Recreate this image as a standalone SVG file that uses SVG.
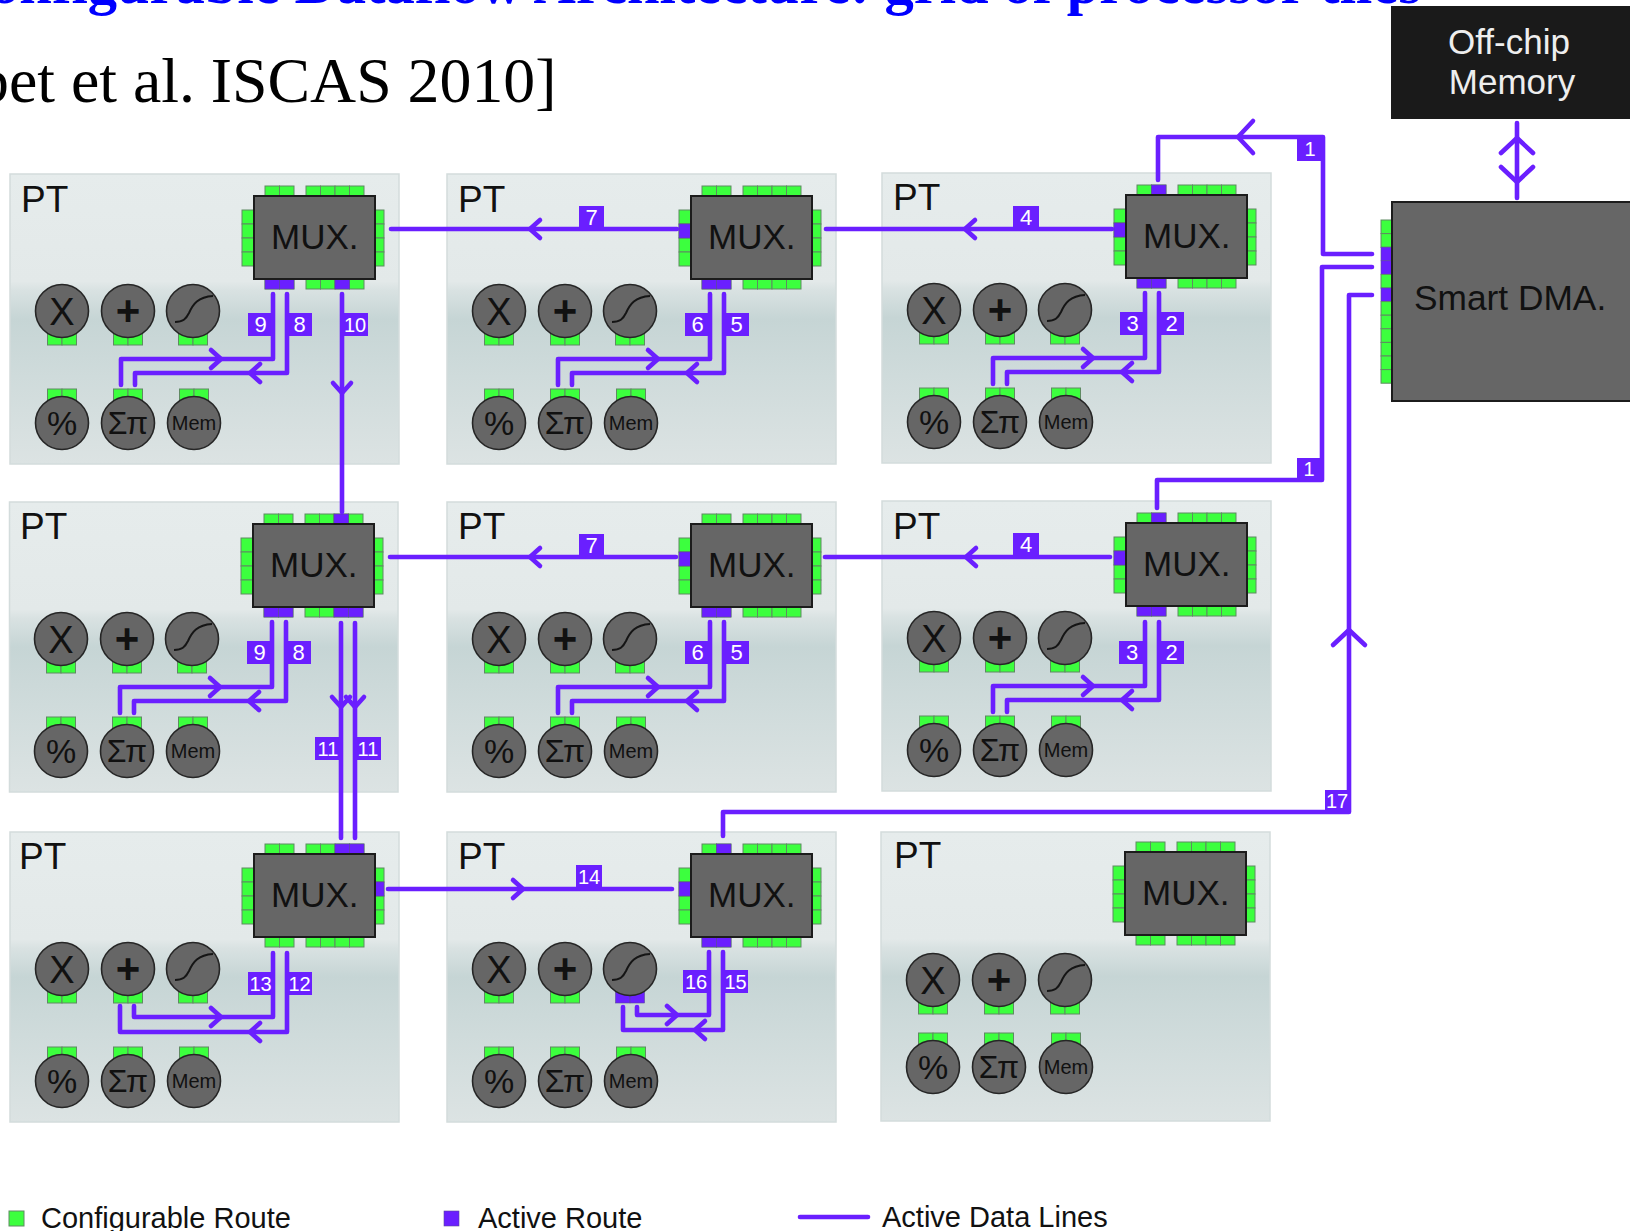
<svg xmlns="http://www.w3.org/2000/svg" xmlns:xlink="http://www.w3.org/1999/xlink" width="1630" height="1231" viewBox="0 0 1630 1231">
<style>
text{font-family:"Liberation Sans",Arial,sans-serif;fill:#111}
.serif{font-family:"Liberation Serif","Times New Roman",serif}
.pt{font-size:37px}
.mx{font-size:35px}
.bg{fill:url(#tile);stroke:#d3dcdc;stroke-width:1.5}
.box{fill:#666;stroke:#1c1c1c;stroke-width:2}
.fu{fill:#666;stroke:#262626;stroke-width:1.6}
.curve{fill:none;stroke:#151515;stroke-width:2}
.g{fill:#3cff3e;stroke:#5f8a62;stroke-width:1}
.a{fill:#6a1fff;stroke:#5a4a9a;stroke-width:.6}
.wire{fill:none;stroke:#6a1fff;stroke-width:4.6;stroke-linecap:round;stroke-linejoin:round}
.lb{fill:#6a1fff}
.n{fill:#fff;font-size:22px;text-anchor:middle}
.nn{font-size:20px}
.m{text-anchor:middle}
.f{font-size:38px;text-anchor:middle}
.plus{font-size:42px;text-anchor:middle;font-weight:bold}
.pc{font-size:34px;text-anchor:middle}
.sp{font-size:32px;text-anchor:middle}
.mem{font-size:20px;text-anchor:middle}
.leg{font-size:29px}
</style>
<defs>
<linearGradient id="tile" x1="0" y1="0" x2="0" y2="1">
<stop offset="0" stop-color="#e6ecec"/><stop offset=".37" stop-color="#e3e9e9"/><stop offset=".4" stop-color="#d9e2e2"/><stop offset=".5" stop-color="#c6d5d5"/><stop offset=".7" stop-color="#cfdbdb"/><stop offset="1" stop-color="#dce3e3"/>
</linearGradient>
<g id="mux-ports">
<rect class="g" x="265" y="186" width="14.5" height="12"/><rect class="g" x="279.5" y="186" width="14.5" height="12"/>
<rect class="g" x="306" y="186" width="14.5" height="12"/><rect class="g" x="320.5" y="186" width="14.5" height="12"/><rect class="g" x="335" y="186" width="14.5" height="12"/><rect class="g" x="349.5" y="186" width="14.5" height="12"/>
<rect class="g" x="265" y="277" width="14.5" height="12"/><rect class="g" x="279.5" y="277" width="14.5" height="12"/>
<rect class="g" x="306" y="277" width="14.5" height="12"/><rect class="g" x="320.5" y="277" width="14.5" height="12"/><rect class="g" x="335" y="277" width="14.5" height="12"/><rect class="g" x="349.5" y="277" width="14.5" height="12"/>
<rect class="g" x="242" y="210" width="14" height="14"/><rect class="g" x="242" y="224" width="14" height="14"/><rect class="g" x="242" y="238" width="14" height="14"/><rect class="g" x="242" y="252" width="14" height="14"/>
<rect class="g" x="373" y="210" width="11" height="14"/><rect class="g" x="373" y="224" width="11" height="14"/><rect class="g" x="373" y="238" width="11" height="14"/><rect class="g" x="373" y="252" width="11" height="14"/>
</g>
<g id="fp-d"><rect class="g" x="-14.5" y="20" width="14.5" height="14"/><rect class="g" x="0" y="20" width="14.5" height="14"/></g>
<g id="fp-u"><rect class="g" x="-14.5" y="-34" width="14.5" height="14"/><rect class="g" x="0" y="-34" width="14.5" height="14"/></g>
<path id="s-curve" class="curve" d="M-18,11 C-10,11 -7,8 -4,2 C0,-7 5,-14 20,-15"/>
<path id="chev" d="M-10,-9 L0,0 L-10,9" class="wire"/>
<path id="chev-big" d="M-15,-16 L0,0 L-15,16" class="wire"/>
</defs>
<rect width="1630" height="1231" fill="#fff"/>
<text class="serif" x="1421" y="2.5" text-anchor="end" font-size="58.6" font-weight="bold" style="fill:#0000ff">Configurable Dataflow Architecture: grid of processor tiles</text>
<text class="serif" x="-23" y="102" font-size="63.8" style="fill:#000">bet et al. ISCAS 2010]</text>

<g id="pt-1-1" transform="translate(0,0)">
<rect class="bg" x="10" y="174" width="389" height="290"/><text class="pt" x="21" y="212">PT</text>
<use href="#mux-ports"/><rect class="a" x="265" y="277" width="14.5" height="12"/><rect class="a" x="279.5" y="277" width="14.5" height="12"/><rect class="a" x="335" y="277" width="14.5" height="12"/>
<rect class="box" x="254" y="196" width="121" height="83"/><text class="mx" x="271" y="249">MUX.</text>
<g transform="translate(62,311)"><use href="#fp-d"/><circle class="fu" r="26.5"/><text class="f" y="13.5">X</text></g>
<g transform="translate(128,311)"><use href="#fp-d"/><circle class="fu" r="26.5"/><text class="plus" y="14">+</text></g>
<g transform="translate(193,311)"><use href="#fp-d"/><circle class="fu" r="26.5"/><use href="#s-curve"/></g>
<g transform="translate(62,423)"><use href="#fp-u"/><circle class="fu" r="26.5"/><text class="pc" y="12">%</text></g>
<g transform="translate(128,423)"><use href="#fp-u"/><circle class="fu" r="26.5"/><text class="sp" y="11">Σπ</text></g>
<g transform="translate(194,423)"><use href="#fp-u"/><circle class="fu" r="26.5"/><text class="mem" y="6.5">Mem</text></g>
</g>

<g id="pt-1-2" transform="translate(437,0)">
<rect class="bg" x="10" y="174" width="389" height="290"/><text class="pt" x="21" y="212">PT</text>
<use href="#mux-ports"/><rect class="a" x="242" y="224" width="14" height="14"/><rect class="a" x="265" y="277" width="14.5" height="12"/><rect class="a" x="279.5" y="277" width="14.5" height="12"/>
<rect class="box" x="254" y="196" width="121" height="83"/><text class="mx" x="271" y="249">MUX.</text>
<g transform="translate(62,311)"><use href="#fp-d"/><circle class="fu" r="26.5"/><text class="f" y="13.5">X</text></g>
<g transform="translate(128,311)"><use href="#fp-d"/><circle class="fu" r="26.5"/><text class="plus" y="14">+</text></g>
<g transform="translate(193,311)"><use href="#fp-d"/><circle class="fu" r="26.5"/><use href="#s-curve"/></g>
<g transform="translate(62,423)"><use href="#fp-u"/><circle class="fu" r="26.5"/><text class="pc" y="12">%</text></g>
<g transform="translate(128,423)"><use href="#fp-u"/><circle class="fu" r="26.5"/><text class="sp" y="11">Σπ</text></g>
<g transform="translate(194,423)"><use href="#fp-u"/><circle class="fu" r="26.5"/><text class="mem" y="6.5">Mem</text></g>
</g>

<g id="pt-1-3" transform="translate(872,-1)">
<rect class="bg" x="10" y="174" width="389" height="290"/><text class="pt" x="21" y="211">PT</text>
<use href="#mux-ports"/><rect class="a" x="279.5" y="186" width="14.5" height="12"/><rect class="a" x="242" y="224" width="14" height="14"/><rect class="a" x="265" y="277" width="14.5" height="12"/><rect class="a" x="279.5" y="277" width="14.5" height="12"/>
<rect class="box" x="254" y="196" width="121" height="83"/><text class="mx" x="271" y="249">MUX.</text>
<g transform="translate(62,311)"><use href="#fp-d"/><circle class="fu" r="26.5"/><text class="f" y="13.5">X</text></g>
<g transform="translate(128,311)"><use href="#fp-d"/><circle class="fu" r="26.5"/><text class="plus" y="14">+</text></g>
<g transform="translate(193,311)"><use href="#fp-d"/><circle class="fu" r="26.5"/><use href="#s-curve"/></g>
<g transform="translate(62,423)"><use href="#fp-u"/><circle class="fu" r="26.5"/><text class="pc" y="12">%</text></g>
<g transform="translate(128,423)"><use href="#fp-u"/><circle class="fu" r="26.5"/><text class="sp" y="11">Σπ</text></g>
<g transform="translate(194,423)"><use href="#fp-u"/><circle class="fu" r="26.5"/><text class="mem" y="6.5">Mem</text></g>
</g>

<g id="pt-2-1" transform="translate(-1,328)">
<rect class="bg" x="10.5" y="174" width="388.5" height="290"/><text class="pt" x="21" y="211">PT</text>
<use href="#mux-ports"/><rect class="a" x="335" y="186" width="14.5" height="12"/><rect class="a" x="265" y="277" width="14.5" height="12"/><rect class="a" x="279.5" y="277" width="14.5" height="12"/><rect class="a" x="335" y="277" width="14.5" height="12"/><rect class="a" x="349.5" y="277" width="14.5" height="12"/>
<rect class="box" x="254" y="196" width="121" height="83"/><text class="mx" x="271" y="249">MUX.</text>
<g transform="translate(62,311)"><use href="#fp-d"/><circle class="fu" r="26.5"/><text class="f" y="13.5">X</text></g>
<g transform="translate(128,311)"><use href="#fp-d"/><circle class="fu" r="26.5"/><text class="plus" y="14">+</text></g>
<g transform="translate(193,311)"><use href="#fp-d"/><circle class="fu" r="26.5"/><use href="#s-curve"/></g>
<g transform="translate(62,423)"><use href="#fp-u"/><circle class="fu" r="26.5"/><text class="pc" y="12">%</text></g>
<g transform="translate(128,423)"><use href="#fp-u"/><circle class="fu" r="26.5"/><text class="sp" y="11">Σπ</text></g>
<g transform="translate(194,423)"><use href="#fp-u"/><circle class="fu" r="26.5"/><text class="mem" y="6.5">Mem</text></g>
</g>

<g id="pt-2-2" transform="translate(437,328)">
<rect class="bg" x="10" y="174" width="389" height="290"/><text class="pt" x="21" y="211">PT</text>
<use href="#mux-ports"/><rect class="a" x="242" y="224" width="14" height="14"/><rect class="a" x="265" y="277" width="14.5" height="12"/><rect class="a" x="279.5" y="277" width="14.5" height="12"/>
<rect class="box" x="254" y="196" width="121" height="83"/><text class="mx" x="271" y="249">MUX.</text>
<g transform="translate(62,311)"><use href="#fp-d"/><circle class="fu" r="26.5"/><text class="f" y="13.5">X</text></g>
<g transform="translate(128,311)"><use href="#fp-d"/><circle class="fu" r="26.5"/><text class="plus" y="14">+</text></g>
<g transform="translate(193,311)"><use href="#fp-d"/><circle class="fu" r="26.5"/><use href="#s-curve"/></g>
<g transform="translate(62,423)"><use href="#fp-u"/><circle class="fu" r="26.5"/><text class="pc" y="12">%</text></g>
<g transform="translate(128,423)"><use href="#fp-u"/><circle class="fu" r="26.5"/><text class="sp" y="11">Σπ</text></g>
<g transform="translate(194,423)"><use href="#fp-u"/><circle class="fu" r="26.5"/><text class="mem" y="6.5">Mem</text></g>
</g>

<g id="pt-2-3" transform="translate(872,327)">
<rect class="bg" x="10" y="174" width="389" height="290"/><text class="pt" x="21" y="212">PT</text>
<use href="#mux-ports"/><rect class="a" x="279.5" y="186" width="14.5" height="12"/><rect class="a" x="242" y="224" width="14" height="14"/><rect class="a" x="265" y="277" width="14.5" height="12"/><rect class="a" x="279.5" y="277" width="14.5" height="12"/>
<rect class="box" x="254" y="196" width="121" height="83"/><text class="mx" x="271" y="249">MUX.</text>
<g transform="translate(62,311)"><use href="#fp-d"/><circle class="fu" r="26.5"/><text class="f" y="13.5">X</text></g>
<g transform="translate(128,311)"><use href="#fp-d"/><circle class="fu" r="26.5"/><text class="plus" y="14">+</text></g>
<g transform="translate(193,311)"><use href="#fp-d"/><circle class="fu" r="26.5"/><use href="#s-curve"/></g>
<g transform="translate(62,423)"><use href="#fp-u"/><circle class="fu" r="26.5"/><text class="pc" y="12">%</text></g>
<g transform="translate(128,423)"><use href="#fp-u"/><circle class="fu" r="26.5"/><text class="sp" y="11">Σπ</text></g>
<g transform="translate(194,423)"><use href="#fp-u"/><circle class="fu" r="26.5"/><text class="mem" y="6.5">Mem</text></g>
</g>

<g id="pt-3-1" transform="translate(0,658)">
<rect class="bg" x="10" y="174" width="389" height="290"/><text class="pt" x="19" y="211">PT</text>
<use href="#mux-ports"/><rect class="a" x="335" y="186" width="14.5" height="12"/><rect class="a" x="349.5" y="186" width="14.5" height="12"/><rect class="a" x="373" y="224" width="11" height="14"/>
<rect class="box" x="254" y="196" width="121" height="83"/><text class="mx" x="271" y="249">MUX.</text>
<g transform="translate(62,311)"><use href="#fp-d"/><circle class="fu" r="26.5"/><text class="f" y="13.5">X</text></g>
<g transform="translate(128,311)"><use href="#fp-d"/><circle class="fu" r="26.5"/><text class="plus" y="14">+</text></g>
<g transform="translate(193,311)"><use href="#fp-d"/><circle class="fu" r="26.5"/><use href="#s-curve"/></g>
<g transform="translate(62,423)"><use href="#fp-u"/><circle class="fu" r="26.5"/><text class="pc" y="12">%</text></g>
<g transform="translate(128,423)"><use href="#fp-u"/><circle class="fu" r="26.5"/><text class="sp" y="11">Σπ</text></g>
<g transform="translate(194,423)"><use href="#fp-u"/><circle class="fu" r="26.5"/><text class="mem" y="6.5">Mem</text></g>
</g>

<g id="pt-3-2" transform="translate(437,658)">
<rect class="bg" x="10" y="174" width="389" height="290"/><text class="pt" x="21" y="211">PT</text>
<use href="#mux-ports"/><rect class="a" x="279.5" y="186" width="14.5" height="12"/><rect class="a" x="242" y="224" width="14" height="14"/><rect class="a" x="265" y="277" width="14.5" height="12"/><rect class="a" x="279.5" y="277" width="14.5" height="12"/>
<rect class="box" x="254" y="196" width="121" height="83"/><text class="mx" x="271" y="249">MUX.</text>
<g transform="translate(62,311)"><use href="#fp-d"/><circle class="fu" r="26.5"/><text class="f" y="13.5">X</text></g>
<g transform="translate(128,311)"><use href="#fp-d"/><circle class="fu" r="26.5"/><text class="plus" y="14">+</text></g>
<g transform="translate(193,311)"><rect class="a" x="-14.5" y="20" width="14.5" height="14"/><rect class="a" x="0" y="20" width="14.5" height="14"/><circle class="fu" r="26.5"/><use href="#s-curve"/></g>
<g transform="translate(62,423)"><use href="#fp-u"/><circle class="fu" r="26.5"/><text class="pc" y="12">%</text></g>
<g transform="translate(128,423)"><use href="#fp-u"/><circle class="fu" r="26.5"/><text class="sp" y="11">Σπ</text></g>
<g transform="translate(194,423)"><use href="#fp-u"/><circle class="fu" r="26.5"/><text class="mem" y="6.5">Mem</text></g>
</g>

<g id="pt-3-3" transform="translate(871,656)">
<rect class="bg" x="10" y="176" width="389" height="289"/><text class="pt" x="23" y="212">PT</text>
<use href="#mux-ports"/>
<rect class="box" x="254" y="196" width="121" height="83"/><text class="mx" x="271" y="249">MUX.</text>
<g transform="translate(62,324)"><use href="#fp-d"/><circle class="fu" r="26.5"/><text class="f" y="13.5">X</text></g>
<g transform="translate(128,324)"><use href="#fp-d"/><circle class="fu" r="26.5"/><text class="plus" y="14">+</text></g>
<g transform="translate(194,324)"><use href="#fp-d"/><circle class="fu" r="26.5"/><use href="#s-curve"/></g>
<g transform="translate(62,411)"><use href="#fp-u"/><circle class="fu" r="26.5"/><text class="pc" y="12">%</text></g>
<g transform="translate(128,411)"><use href="#fp-u"/><circle class="fu" r="26.5"/><text class="sp" y="11">Σπ</text></g>
<g transform="translate(195,411)"><use href="#fp-u"/><circle class="fu" r="26.5"/><text class="mem" y="6.5">Mem</text></g>
</g>

<g id="off-chip-memory">
<rect x="1391" y="6" width="239" height="113" fill="#1a1a1a"/>
<text class="m" x="1509" y="53.5" font-size="35" style="fill:#eee">Off-chip</text>
<text class="m" x="1512" y="93.5" font-size="35" style="fill:#eee">Memory</text>
</g>
<g id="smart-dma">
<rect class="g" x="1381" y="220" width="13" height="13.6"/><rect class="g" x="1381" y="233.6" width="13" height="13.6"/><rect class="a" x="1381" y="247.2" width="13" height="13.6"/><rect class="a" x="1381" y="260.8" width="13" height="13.6"/><rect class="g" x="1381" y="274.4" width="13" height="13.6"/><rect class="a" x="1381" y="288" width="13" height="13.6"/><rect class="g" x="1381" y="301.6" width="13" height="13.6"/><rect class="g" x="1381" y="315.2" width="13" height="13.6"/><rect class="g" x="1381" y="328.8" width="13" height="13.6"/><rect class="g" x="1381" y="342.4" width="13" height="13.6"/><rect class="g" x="1381" y="356" width="13" height="13.6"/><rect class="g" x="1381" y="369.6" width="13" height="13.6"/>
<rect class="box" x="1392" y="202" width="240" height="199"/>
<text x="1414" y="310" font-size="35.3">Smart DMA.</text>
</g>

<g id="connectors">
<path class="wire" d="M1517,123V198"/><use href="#chev-big" transform="translate(1517,138) rotate(-90)"/><use href="#chev-big" transform="translate(1517,182) rotate(90)"/>
<path class="wire" d="M1158,180V137H1323V254H1372"/><use href="#chev-big" transform="translate(1238,137) rotate(180)"/>
<rect class="lb" x="1297" y="137" width="26" height="24"/><text class="n nn" x="1310" y="156">1</text>
<path class="wire" d="M1372,267H1322V480H1157V508"/>
<rect class="lb" x="1297" y="458" width="25" height="22"/><text class="n nn" x="1309" y="476">1</text>
<path class="wire" d="M1372,295H1349V812H723V836"/><use href="#chev-big" transform="translate(1349,630) rotate(-90)"/>
<rect class="lb" x="1325" y="790" width="25" height="22"/><text class="n nn" x="1337" y="808">17</text>

<path class="wire" d="M391,229H677"/><use href="#chev" transform="translate(530,229) rotate(180)"/>
<rect class="lb" x="579" y="206" width="25" height="23"/><text class="n" x="591.5" y="225">7</text>
<path class="wire" d="M826,229H1112"/><use href="#chev" transform="translate(965,229) rotate(180)"/>
<rect class="lb" x="1013" y="206" width="26" height="23"/><text class="n" x="1026" y="225">4</text>
<path class="wire" d="M390,557H676"/><use href="#chev" transform="translate(530,557) rotate(180)"/>
<rect class="lb" x="579" y="534" width="25" height="23"/><text class="n" x="591.5" y="553">7</text>
<path class="wire" d="M825,557H1110"/><use href="#chev" transform="translate(966,557) rotate(180)"/>
<rect class="lb" x="1013" y="533" width="26" height="24"/><text class="n" x="1026" y="552">4</text>
<path class="wire" d="M388,889H672"/><use href="#chev" transform="translate(523,889)"/>
<rect class="lb" x="576" y="865" width="26" height="24"/><text class="n nn" x="589" y="884">14</text>

<path class="wire" d="M342,294V512"/><use href="#chev" transform="translate(342,393) rotate(90)"/>
<rect class="lb" x="342" y="313" width="26" height="23"/><text class="n nn" x="355" y="332">10</text>
<path class="wire" d="M341,623V838"/><use href="#chev" transform="translate(341,707) rotate(90)"/>
<path class="wire" d="M355,623V838"/><use href="#chev" transform="translate(355,707) rotate(90)"/>
<rect class="lb" x="315" y="737" width="26" height="23"/><text class="n nn" x="328" y="756">11</text>
<rect class="lb" x="355" y="737" width="26" height="23"/><text class="n nn" x="368" y="756">11</text>

<path class="wire" d="M273,294V359H121V385"/><use href="#chev" transform="translate(221,359)"/>
<path class="wire" d="M287,294V373H135V385"/><use href="#chev" transform="translate(250,373) rotate(180)"/>
<rect class="lb" x="248" y="313" width="25" height="23"/><text class="n" x="260.5" y="332">9</text>
<rect class="lb" x="287" y="313" width="25" height="23"/><text class="n" x="299.5" y="332">8</text>

<path class="wire" d="M710,294V359H558V385"/><use href="#chev" transform="translate(658,359)"/>
<path class="wire" d="M724,294V373H572V385"/><use href="#chev" transform="translate(687,373) rotate(180)"/>
<rect class="lb" x="685" y="313" width="25" height="23"/><text class="n" x="697.5" y="332">6</text>
<rect class="lb" x="724" y="313" width="25" height="23"/><text class="n" x="736.5" y="332">5</text>

<path class="wire" d="M1145,293V358H993V384"/><use href="#chev" transform="translate(1093,358)"/>
<path class="wire" d="M1159,293V372H1007V384"/><use href="#chev" transform="translate(1122,372) rotate(180)"/>
<rect class="lb" x="1120" y="312" width="25" height="23"/><text class="n" x="1132.5" y="331">3</text>
<rect class="lb" x="1159" y="312" width="25" height="23"/><text class="n" x="1171.5" y="331">2</text>

<path class="wire" d="M272,622V687H120V713"/><use href="#chev" transform="translate(220,687)"/>
<path class="wire" d="M286,622V701H134V713"/><use href="#chev" transform="translate(249,701) rotate(180)"/>
<rect class="lb" x="247" y="641" width="25" height="23"/><text class="n" x="259.5" y="660">9</text>
<rect class="lb" x="286" y="641" width="25" height="23"/><text class="n" x="298.5" y="660">8</text>

<path class="wire" d="M710,622V687H558V713"/><use href="#chev" transform="translate(658,687)"/>
<path class="wire" d="M724,622V701H572V713"/><use href="#chev" transform="translate(687,701) rotate(180)"/>
<rect class="lb" x="685" y="641" width="25" height="23"/><text class="n" x="697.5" y="660">6</text>
<rect class="lb" x="724" y="641" width="25" height="23"/><text class="n" x="736.5" y="660">5</text>

<path class="wire" d="M1145,622V686H993V712"/><use href="#chev" transform="translate(1093,686)"/>
<path class="wire" d="M1159,622V700H1007V712"/><use href="#chev" transform="translate(1122,700) rotate(180)"/>
<rect class="lb" x="1119" y="641" width="26" height="23"/><text class="n" x="1132" y="660">3</text>
<rect class="lb" x="1159" y="641" width="25" height="23"/><text class="n" x="1171.5" y="660">2</text>

<path class="wire" d="M273,953V1017H134V1006"/><use href="#chev" transform="translate(221,1017)"/>
<path class="wire" d="M287,953V1032H120V1006"/><use href="#chev" transform="translate(250,1032) rotate(180)"/>
<rect class="lb" x="248" y="972" width="25" height="23"/><text class="n nn" x="260.5" y="991">13</text>
<rect class="lb" x="287" y="972" width="25" height="23"/><text class="n nn" x="299.5" y="991">12</text>

<path class="wire" d="M709,952V1015H637V1007"/><use href="#chev" transform="translate(677,1015)"/>
<path class="wire" d="M723,952V1030H623V1007"/><use href="#chev" transform="translate(695,1030) rotate(180)"/>
<rect class="lb" x="683" y="970" width="26" height="23"/><text class="n nn" x="696" y="989">16</text>
<rect class="lb" x="723" y="970" width="25" height="23"/><text class="n nn" x="735.5" y="989">15</text>
</g>

<g id="legend">
<rect class="g" x="9" y="1211" width="15" height="15"/>
<text class="leg" x="41" y="1227.5">Configurable Route</text>
<rect class="a" x="444" y="1211" width="15" height="15"/>
<text class="leg" x="478" y="1227.5">Active Route</text>
<path class="wire" d="M800,1217H868"/>
<text class="leg" x="882" y="1227">Active Data Lines</text>
</g>
</svg>
